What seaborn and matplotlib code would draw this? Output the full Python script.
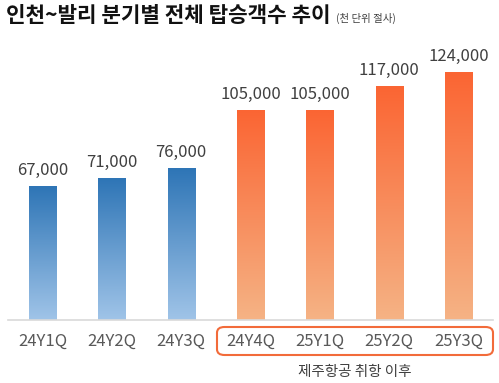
import numpy as np
import pandas as pd
import matplotlib
matplotlib.use("Agg")
import matplotlib.pyplot as plt
import matplotlib.colors as mcolors
from matplotlib.patches import FancyBboxPatch
import seaborn as sns

# ======================================================
# DATA
# ======================================================
QUARTERS = ["24Y1Q", "24Y2Q", "24Y3Q", "24Y4Q", "25Y1Q", "25Y2Q", "25Y3Q"]
PASSENGERS = [67000, 71000, 76000, 105000, 105000, 117000, 124000]
GROUP = ["before", "before", "before", "after", "after", "after", "after"]

TITLE = "인천~발리 분기별 전체 탑승객수 추이"
SUBTITLE = "(천 단위 절사)"
NOTE = "제주항공 취항 이후"

GRADIENTS = {
    "before": ("#2E75B6", "#A0C4E8"),
    "after": ("#FB6533", "#F5B385"),
}

W, H = 499, 383

sns.set_theme(style="white")
plt.rcParams["font.family"] = ["Noto Sans CJK KR", "DejaVu Sans"]

df = pd.DataFrame({"Quarter": QUARTERS, "Passengers": PASSENGERS, "Group": GROUP})

fig = plt.figure(figsize=(W / 100, H / 100), dpi=100)
ax = fig.add_axes([8 / W, (H - 320) / H, 485 / W, 270 / H])

sns.barplot(data=df, x="Quarter", y="Passengers", color="white",
            width=0.39, ax=ax, saturation=1)

ymax = 135000

# gradient fill for each bar
for patch, grp, val in zip(ax.patches, df["Group"], df["Passengers"]):
    x0 = patch.get_x()
    w = patch.get_width()
    h = patch.get_height()
    top, bottom = GRADIENTS[grp]
    cmap = mcolors.LinearSegmentedColormap.from_list("g", [bottom, top])
    grad = np.linspace(0, 1, 256).reshape(-1, 1)
    ax.imshow(grad, cmap=cmap, aspect="auto", origin="lower",
              extent=[x0, x0 + w, 0, h], zorder=2)
    patch.set_facecolor("none")
    patch.set_edgecolor("none")
    ax.text(x0 + w / 2, h + 3500, f"{val:,}", ha="center", va="bottom",
            fontsize=12, color="#404040")

ax.set_xlim(-0.5, len(QUARTERS) - 0.5)
ax.set_ylim(0, ymax)

sns.despine(ax=ax, left=True, top=True, right=True)
ax.spines["bottom"].set_color("#D9D9D9")
ax.spines["bottom"].set_linewidth(1.2)
ax.set_yticks([])
ax.set_xlabel("")
ax.set_ylabel("")
ax.tick_params(axis="x", length=0, pad=9, labelsize=12, labelcolor="#595959")

# rounded box around the post-launch quarters
box = FancyBboxPatch((217 / W, (H - 355) / H), 276 / W, 28 / H,
                     boxstyle="round,pad=0,rounding_size=0.015",
                     transform=fig.transFigure, fill=False,
                     edgecolor="#F26B3A", linewidth=1.5)
fig.patches.append(box)
fig.text(355 / W, 1 - 372 / H, NOTE, ha="center", va="center",
         fontsize=10.5, color="#404040")

title = fig.text(6 / W, 1 - 16 / H, TITLE, ha="left", va="center",
                 fontsize=15.3, fontweight="bold", color="#111111")
fig.canvas.draw()
bb = title.get_window_extent()
fig.text((bb.x1 + 6) / W, 1 - 18 / H, SUBTITLE, ha="left", va="center",
         fontsize=7.5, color="#404040")

fig.savefig("out.png", dpi=100)
